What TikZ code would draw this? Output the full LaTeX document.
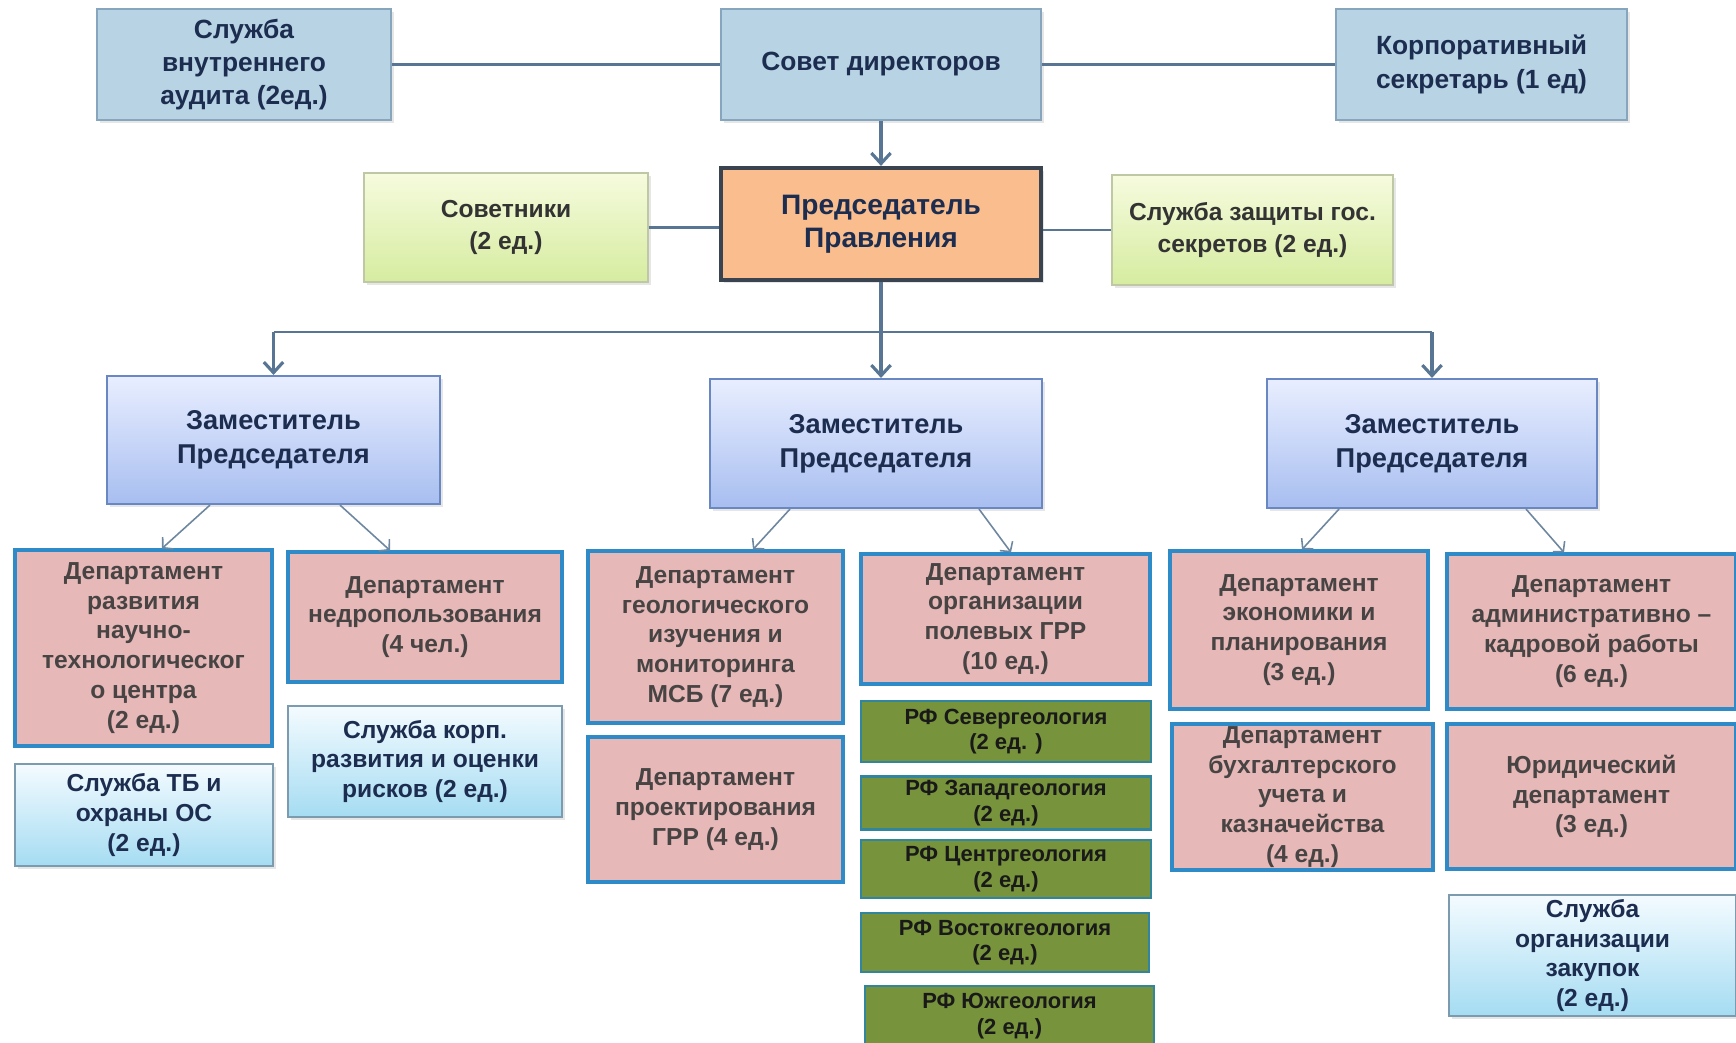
\documentclass[tikz,border=0pt]{standalone}
\usepackage{fontspec}
\setmainfont{Liberation Sans}
\usetikzlibrary{arrows.meta,shadows}
\definecolor{topfill}{RGB}{184,212,228}
\definecolor{topline}{RGB}{135,165,188}
\definecolor{navytext}{RGB}{28,45,80}
\definecolor{chairfill}{RGB}{250,190,142}
\definecolor{chairline}{RGB}{58,68,80}
\definecolor{greentop}{RGB}{246,251,222}
\definecolor{greenbot}{RGB}{214,236,160}
\definecolor{greenline}{RGB}{190,200,165}
\definecolor{zamtop}{RGB}{232,238,255}
\definecolor{zambot}{RGB}{168,190,240}
\definecolor{zamline}{RGB}{105,135,195}
\definecolor{deptfill}{RGB}{230,185,184}
\definecolor{deptline}{RGB}{46,139,200}
\definecolor{depttext}{RGB}{72,68,68}
\definecolor{servtop}{RGB}{244,251,255}
\definecolor{servbot}{RGB}{165,220,242}
\definecolor{servline}{RGB}{125,155,175}
\definecolor{rffill}{RGB}{119,147,60}
\definecolor{rfline}{RGB}{49,133,156}
\definecolor{linkc}{RGB}{88,118,148}
\definecolor{thinc}{RGB}{110,135,160}

\begin{document}
\begin{tikzpicture}[x=0.02cm,y=-0.02cm,
    every node/.style={align=center,inner sep=2pt},
    shade/.style={drop shadow={opacity=0.2,shadow xshift=1.5pt,shadow yshift=-1.5pt}},
    topbox/.style={shade,draw=topline,line width=1.2pt,fill=topfill,text=navytext,font=\bfseries\fontsize{15}{19}\selectfont},
    chairbox/.style={shade,draw=chairline,line width=2.4pt,fill=chairfill,text=navytext,font=\bfseries\fontsize{16}{19}\selectfont},
    greenbox/.style={shade,draw=greenline,line width=0.8pt,top color=greentop,bottom color=greenbot,text=black!80,font=\bfseries\fontsize{14}{18}\selectfont},
    zambox/.style={shade,draw=zamline,line width=1.2pt,top color=zamtop,bottom color=zambot,text=navytext,font=\bfseries\fontsize{15.5}{19.5}\selectfont},
    deptbox/.style={draw=deptline,line width=1.8pt,fill=deptfill,text=depttext,font=\bfseries\fontsize{14}{17}\selectfont},
    servbox/.style={shade,draw=servline,line width=0.8pt,top color=servtop,bottom color=servbot,text=navytext,font=\bfseries\fontsize{14}{17}\selectfont},
    rfbox/.style={draw=rfline,line width=1.2pt,fill=rffill,text=black!90,inner sep=1pt,font=\bfseries\fontsize{12.5}{14.5}\selectfont},
    link/.style={draw=linkc,line width=1.3pt},
    bigarrow/.style={draw=linkc,line width=1.8pt,-{Straight Barb[length=6pt,width=11pt]}},
    splitarrow/.style={draw=thinc,line width=0.9pt,-{Straight Barb[length=4pt,width=9pt]}}]
\useasboundingbox (0,0) rectangle (1736,1042);

\node[topbox,minimum width=5.88cm,minimum height=2.22cm] (audit) at (244,64.5) {Служба\\внутреннего\\аудита (2ед.)};
\node[topbox,minimum width=6.4cm,minimum height=2.22cm] (council) at (881,64.5) {Совет директоров};
\node[topbox,minimum width=5.82cm,minimum height=2.22cm] (secretary) at (1481.5,64.5) {Корпоративный\\секретарь (1 ед)};
\node[greenbox,minimum width=5.68cm,minimum height=2.18cm] (advisors) at (506,227.5) {Советники\\(2 ед.)};
\node[chairbox,minimum width=6.4cm,minimum height=2.24cm] (chair) at (881,224) {Председатель\\Правления};
\node[greenbox,minimum width=5.62cm,minimum height=2.2cm] (secrets) at (1252.5,230) {Служба защиты гос.\\секретов (2 ед.)};

\node[zambox,minimum width=6.66cm,minimum height=2.56cm] (deputy1) at (273.5,440) {Заместитель\\Председателя};
\node[zambox,minimum width=6.64cm,minimum height=2.58cm] (deputy2) at (876,443.5) {Заместитель\\Председателя};
\node[zambox,minimum width=6.6cm,minimum height=2.58cm] (deputy3) at (1432,443.5) {Заместитель\\Председателя};

\node[deptbox,minimum width=5.14cm,minimum height=3.92cm] (ntc) at (143.5,648) {Департамент\\развития\\научно-\\технологическог\\о центра\\(2 ед.)};
\node[deptbox,minimum width=5.48cm,minimum height=2.6cm] (nedro) at (425,617) {Департамент\\недропользования\\(4 чел.)};
\node[servbox,minimum width=5.16cm,minimum height=2.04cm] (safety) at (144,815) {Служба ТБ и\\охраны ОС\\(2 ед.)};
\node[servbox,minimum width=5.48cm,minimum height=2.22cm] (risks) at (425,761.5) {Служба корп.\\развития и оценки\\рисков (2 ед.)};

\node[deptbox,minimum width=5.1cm,minimum height=3.44cm] (geology) at (715.5,637) {Департамент\\геологического\\изучения и\\мониторинга\\МСБ (7 ед.)};
\node[deptbox,minimum width=5.1cm,minimum height=2.9cm] (design) at (715.5,809.5) {Департамент\\проектирования\\ГРР (4 ед.)};
\node[deptbox,minimum width=5.78cm,minimum height=2.6cm] (field) at (1005.5,619) {Департамент\\организации\\полевых ГРР\\(10 ед.)};
\node[rfbox,minimum width=5.8cm,minimum height=1.22cm] (north) at (1006,731.5) {РФ Севергеология\\(2 ед. )};
\node[rfbox,minimum width=5.8cm,minimum height=1.06cm] (west) at (1006,803) {РФ Западгеология\\(2 ед.)};
\node[rfbox,minimum width=5.8cm,minimum height=1.16cm] (centre) at (1006,869) {РФ Центргеология\\(2 ед.)};
\node[rfbox,minimum width=5.76cm,minimum height=1.18cm] (east) at (1005,942.5) {РФ Востокгеология\\(2 ед.)};
\node[rfbox,minimum width=5.78cm,minimum height=1.2cm] (south) at (1009.5,1016) {РФ Южгеология\\(2 ед.)};

\node[deptbox,minimum width=5.16cm,minimum height=3.16cm] (economy) at (1299,630) {Департамент\\экономики и\\планирования\\(3 ед.)};
\node[deptbox,minimum width=5.22cm,minimum height=2.92cm,inner ysep=0pt] (accounts) at (1302.5,797) {Департамент\\бухгалтерского\\учета и\\казначейства\\(4 ед.)};
\node[deptbox,minimum width=5.78cm,minimum height=3.1cm] (staff) at (1591.5,631.5) {Департамент\\административно –\\кадровой работы\\(6 ед.)};
\node[deptbox,minimum width=5.78cm,minimum height=2.9cm] (legal) at (1591.5,796.5) {Юридический\\департамент\\(3 ед.)};
\node[servbox,minimum width=5.74cm,minimum height=2.42cm] (purchase) at (1592.5,955.5) {Служба\\организации\\закупок\\(2 ед.)};

\draw[link] (audit) -- (council);
\draw[link] (council) -- (secretary);
\draw[link] (advisors.east) -- (advisors.east -| chair.west);
\draw[link] (chair.east |- secrets.west) -- (secrets.west);
\draw[bigarrow] (council) -- (chair);
\coordinate (busleft) at (273.5,332);
\coordinate (busright) at (1432,332);
\draw[link,line width=1.8pt] (chair.south) -- (chair.south |- busleft);
\draw[link] (busleft) -- (busright);
\draw[bigarrow] (busleft) -- (deputy1);
\draw[bigarrow] (chair.south |- busleft) -- (chair.south |- deputy2.north);
\draw[bigarrow] (busright) -- (deputy3);

\draw[splitarrow] ([xshift=-1.27cm]deputy1.south) -- ([xshift=0.37cm]ntc.north);
\draw[splitarrow] ([xshift=1.33cm]deputy1.south) -- ([xshift=-0.7cm]nedro.north);
\draw[splitarrow] ([xshift=-1.72cm]deputy2.south) -- ([xshift=0.75cm]geology.north);
\draw[splitarrow] ([xshift=2.06cm]deputy2.south) -- ([xshift=0.11cm]field.north);
\draw[splitarrow] ([xshift=-1.86cm]deputy3.south) -- ([xshift=0.06cm]economy.north);
\draw[splitarrow] ([xshift=1.88cm]deputy3.south) -- ([xshift=-0.55cm]staff.north);
\end{tikzpicture}
\end{document}
